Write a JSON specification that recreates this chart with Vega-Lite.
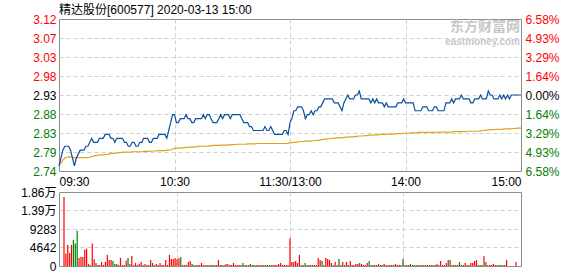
{
"$schema": "https://vega.github.io/schema/vega-lite/v6.json",
"padding": {"left": 0, "right": 0, "top": 3, "bottom": 0},
"background": "white",
"spacing": -3,
"config": {
  "view": {"stroke": "#8c8c8c"},
  "font": "Liberation Sans, Noto Sans CJK SC",
  "axis": {"labelFont": "Liberation Sans, Noto Sans CJK SC", "labelFontSize": 12, "ticks": false, "domain": false, "gridDash": [4, 3], "gridColor": "#cfcfcf", "labelOverlap": false, "labelBound": false}
},
"data": {"values": [
{"m":0,"p":2.75,"a":2.75,"v":17300,"c":"r"},
{"m":1,"p":2.77,"a":2.758,"v":3120,"c":"r"},
{"m":2,"p":2.79,"a":2.765,"v":5320,"c":"r"},
{"m":3,"p":2.80,"a":2.77,"v":3290,"c":"r"},
{"m":4,"p":2.80,"a":2.772,"v":5320,"c":"r"},
{"m":5,"p":2.80,"a":2.773,"v":6580,"c":"g"},
{"m":6,"p":2.79,"a":2.773,"v":5650,"c":"g"},
{"m":7,"p":2.77,"a":2.772,"v":8860,"c":"g"},
{"m":8,"p":2.75,"a":2.771,"v":2030,"c":"r"},
{"m":9,"p":2.77,"a":2.771,"v":2280,"c":"r"},
{"m":10,"p":2.78,"a":2.771,"v":2280,"c":"r"},
{"m":11,"p":2.79,"a":2.771,"v":4050,"c":"r"},
{"m":12,"p":2.79,"a":2.771,"v":4300,"c":"r"},
{"m":13,"p":2.79,"a":2.771,"v":510,"c":"r"},
{"m":14,"p":2.80,"a":2.771,"v":250,"c":"r"},
{"m":15,"p":2.80,"a":2.771,"v":5650,"c":"r"},
{"m":16,"p":2.81,"a":2.772,"v":1690,"c":"r"},
{"m":17,"p":2.82,"a":2.774,"v":760,"c":"g"},
{"m":18,"p":2.81,"a":2.775,"v":250,"c":"r"},
{"m":19,"p":2.81,"a":2.776,"v":250,"c":"r"},
{"m":20,"p":2.81,"a":2.777,"v":1010,"c":"r"},
{"m":21,"p":2.82,"a":2.778,"v":250,"c":"r"},
{"m":22,"p":2.82,"a":2.778,"v":1010,"c":"r"},
{"m":23,"p":2.82,"a":2.778,"v":2790,"c":"r"},
{"m":24,"p":2.83,"a":2.779,"v":1520,"c":"r"},
{"m":25,"p":2.83,"a":2.779,"v":1520,"c":"r"},
{"m":26,"p":2.83,"a":2.78,"v":1270,"c":"g"},
{"m":27,"p":2.82,"a":2.782,"v":510,"c":"g"},
{"m":28,"p":2.82,"a":2.782,"v":510,"c":"g"},
{"m":29,"p":2.81,"a":2.782,"v":250,"c":"r"},
{"m":30,"p":2.82,"a":2.783,"v":2030,"c":"r"},
{"m":31,"p":2.82,"a":2.783,"v":250,"c":"r"},
{"m":32,"p":2.82,"a":2.784,"v":250,"c":"r"},
{"m":33,"p":2.82,"a":2.785,"v":1350,"c":"r"},
{"m":34,"p":2.81,"a":2.785,"v":2030,"c":"g"},
{"m":35,"p":2.81,"a":2.785,"v":510,"c":"g"},
{"m":36,"p":2.80,"a":2.785,"v":2530,"c":"r"},
{"m":37,"p":2.80,"a":2.785,"v":250,"c":"r"},
{"m":38,"p":2.81,"a":2.786,"v":760,"c":"r"},
{"m":39,"p":2.81,"a":2.786,"v":250,"c":"r"},
{"m":40,"p":2.80,"a":2.786,"v":510,"c":"r"},
{"m":41,"p":2.80,"a":2.786,"v":1010,"c":"r"},
{"m":42,"p":2.81,"a":2.786,"v":250,"c":"r"},
{"m":43,"p":2.81,"a":2.786,"v":510,"c":"r"},
{"m":44,"p":2.82,"a":2.787,"v":250,"c":"r"},
{"m":45,"p":2.82,"a":2.787,"v":250,"c":"r"},
{"m":46,"p":2.82,"a":2.787,"v":1520,"c":"r"},
{"m":47,"p":2.81,"a":2.787,"v":760,"c":"g"},
{"m":48,"p":2.81,"a":2.788,"v":250,"c":"r"},
{"m":49,"p":2.82,"a":2.788,"v":510,"c":"r"},
{"m":50,"p":2.82,"a":2.788,"v":250,"c":"r"},
{"m":51,"p":2.82,"a":2.788,"v":760,"c":"r"},
{"m":52,"p":2.83,"a":2.789,"v":250,"c":"r"},
{"m":53,"p":2.83,"a":2.789,"v":250,"c":"r"},
{"m":54,"p":2.83,"a":2.789,"v":1520,"c":"r"},
{"m":55,"p":2.83,"a":2.789,"v":250,"c":"r"},
{"m":56,"p":2.82,"a":2.79,"v":2790,"c":"r"},
{"m":57,"p":2.84,"a":2.79,"v":1770,"c":"r"},
{"m":58,"p":2.86,"a":2.791,"v":1770,"c":"r"},
{"m":59,"p":2.88,"a":2.793,"v":2030,"c":"r"},
{"m":60,"p":2.88,"a":2.794,"v":1670,"c":"r"},
{"m":61,"p":2.86,"a":2.795,"v":1920,"c":"r"},
{"m":62,"p":2.86,"a":2.795,"v":2260,"c":"g"},
{"m":63,"p":2.87,"a":2.796,"v":250,"c":"r"},
{"m":64,"p":2.87,"a":2.796,"v":250,"c":"r"},
{"m":65,"p":2.87,"a":2.796,"v":250,"c":"r"},
{"m":66,"p":2.88,"a":2.797,"v":1000,"c":"r"},
{"m":67,"p":2.87,"a":2.797,"v":1250,"c":"r"},
{"m":68,"p":2.87,"a":2.798,"v":590,"c":"g"},
{"m":69,"p":2.86,"a":2.798,"v":250,"c":"g"},
{"m":70,"p":2.86,"a":2.798,"v":250,"c":"r"},
{"m":71,"p":2.87,"a":2.799,"v":250,"c":"r"},
{"m":72,"p":2.87,"a":2.799,"v":250,"c":"r"},
{"m":73,"p":2.87,"a":2.8,"v":750,"c":"r"},
{"m":74,"p":2.87,"a":2.8,"v":250,"c":"r"},
{"m":75,"p":2.88,"a":2.8,"v":250,"c":"r"},
{"m":76,"p":2.87,"a":2.8,"v":250,"c":"r"},
{"m":77,"p":2.88,"a":2.8,"v":250,"c":"g"},
{"m":78,"p":2.88,"a":2.801,"v":250,"c":"r"},
{"m":79,"p":2.87,"a":2.801,"v":250,"c":"r"},
{"m":80,"p":2.86,"a":2.802,"v":250,"c":"g"},
{"m":81,"p":2.86,"a":2.802,"v":250,"c":"r"},
{"m":82,"p":2.86,"a":2.802,"v":1500,"c":"r"},
{"m":83,"p":2.87,"a":2.802,"v":250,"c":"g"},
{"m":84,"p":2.88,"a":2.803,"v":250,"c":"g"},
{"m":85,"p":2.87,"a":2.803,"v":250,"c":"r"},
{"m":86,"p":2.88,"a":2.803,"v":500,"c":"r"},
{"m":87,"p":2.88,"a":2.803,"v":500,"c":"r"},
{"m":88,"p":2.88,"a":2.803,"v":250,"c":"g"},
{"m":89,"p":2.87,"a":2.804,"v":250,"c":"r"},
{"m":90,"p":2.88,"a":2.804,"v":750,"c":"r"},
{"m":91,"p":2.88,"a":2.804,"v":250,"c":"r"},
{"m":92,"p":2.88,"a":2.805,"v":250,"c":"r"},
{"m":93,"p":2.88,"a":2.805,"v":250,"c":"r"},
{"m":94,"p":2.88,"a":2.805,"v":250,"c":"g"},
{"m":95,"p":2.87,"a":2.805,"v":750,"c":"g"},
{"m":96,"p":2.86,"a":2.805,"v":250,"c":"r"},
{"m":97,"p":2.86,"a":2.805,"v":250,"c":"r"},
{"m":98,"p":2.86,"a":2.806,"v":250,"c":"g"},
{"m":99,"p":2.85,"a":2.806,"v":500,"c":"r"},
{"m":100,"p":2.85,"a":2.806,"v":250,"c":"g"},
{"m":101,"p":2.84,"a":2.806,"v":250,"c":"g"},
{"m":102,"p":2.84,"a":2.806,"v":250,"c":"r"},
{"m":103,"p":2.84,"a":2.807,"v":250,"c":"r"},
{"m":104,"p":2.84,"a":2.807,"v":250,"c":"r"},
{"m":105,"p":2.84,"a":2.807,"v":250,"c":"r"},
{"m":106,"p":2.84,"a":2.807,"v":250,"c":"r"},
{"m":107,"p":2.85,"a":2.807,"v":250,"c":"g"},
{"m":108,"p":2.84,"a":2.807,"v":250,"c":"r"},
{"m":109,"p":2.84,"a":2.807,"v":250,"c":"g"},
{"m":110,"p":2.85,"a":2.807,"v":250,"c":"g"},
{"m":111,"p":2.84,"a":2.807,"v":250,"c":"r"},
{"m":112,"p":2.83,"a":2.807,"v":250,"c":"r"},
{"m":113,"p":2.83,"a":2.807,"v":250,"c":"r"},
{"m":114,"p":2.83,"a":2.807,"v":500,"c":"r"},
{"m":115,"p":2.83,"a":2.807,"v":750,"c":"r"},
{"m":116,"p":2.83,"a":2.807,"v":250,"c":"r"},
{"m":117,"p":2.84,"a":2.807,"v":250,"c":"r"},
{"m":118,"p":2.84,"a":2.807,"v":250,"c":"r"},
{"m":119,"p":2.83,"a":2.807,"v":250,"c":"r"},
{"m":120,"p":2.86,"a":2.809,"v":6950,"c":"r"},
{"m":121,"p":2.87,"a":2.809,"v":1000,"c":"r"},
{"m":122,"p":2.89,"a":2.81,"v":1000,"c":"r"},
{"m":123,"p":2.89,"a":2.81,"v":1250,"c":"r"},
{"m":124,"p":2.90,"a":2.811,"v":750,"c":"r"},
{"m":125,"p":2.90,"a":2.812,"v":2760,"c":"r"},
{"m":126,"p":2.90,"a":2.812,"v":250,"c":"g"},
{"m":127,"p":2.89,"a":2.812,"v":250,"c":"r"},
{"m":128,"p":2.87,"a":2.813,"v":750,"c":"g"},
{"m":129,"p":2.88,"a":2.813,"v":250,"c":"r"},
{"m":130,"p":2.88,"a":2.813,"v":250,"c":"g"},
{"m":131,"p":2.89,"a":2.813,"v":250,"c":"g"},
{"m":132,"p":2.88,"a":2.814,"v":250,"c":"r"},
{"m":133,"p":2.89,"a":2.814,"v":250,"c":"r"},
{"m":134,"p":2.89,"a":2.815,"v":250,"c":"r"},
{"m":135,"p":2.90,"a":2.815,"v":2000,"c":"r"},
{"m":136,"p":2.90,"a":2.816,"v":1500,"c":"r"},
{"m":137,"p":2.91,"a":2.817,"v":1250,"c":"g"},
{"m":138,"p":2.92,"a":2.818,"v":250,"c":"r"},
{"m":139,"p":2.92,"a":2.818,"v":2000,"c":"r"},
{"m":140,"p":2.92,"a":2.819,"v":1750,"c":"r"},
{"m":141,"p":2.92,"a":2.819,"v":1500,"c":"r"},
{"m":142,"p":2.92,"a":2.82,"v":750,"c":"r"},
{"m":143,"p":2.91,"a":2.82,"v":250,"c":"g"},
{"m":144,"p":2.91,"a":2.821,"v":1000,"c":"r"},
{"m":145,"p":2.91,"a":2.821,"v":250,"c":"r"},
{"m":146,"p":2.90,"a":2.822,"v":1750,"c":"g"},
{"m":147,"p":2.89,"a":2.822,"v":250,"c":"r"},
{"m":148,"p":2.91,"a":2.822,"v":1000,"c":"r"},
{"m":149,"p":2.92,"a":2.823,"v":250,"c":"r"},
{"m":150,"p":2.93,"a":2.823,"v":1000,"c":"r"},
{"m":151,"p":2.92,"a":2.824,"v":250,"c":"g"},
{"m":152,"p":2.92,"a":2.824,"v":1250,"c":"r"},
{"m":153,"p":2.92,"a":2.824,"v":250,"c":"r"},
{"m":154,"p":2.93,"a":2.825,"v":250,"c":"r"},
{"m":155,"p":2.93,"a":2.825,"v":500,"c":"r"},
{"m":156,"p":2.94,"a":2.826,"v":500,"c":"r"},
{"m":157,"p":2.92,"a":2.826,"v":750,"c":"g"},
{"m":158,"p":2.92,"a":2.826,"v":500,"c":"r"},
{"m":159,"p":2.92,"a":2.827,"v":250,"c":"r"},
{"m":160,"p":2.92,"a":2.827,"v":250,"c":"r"},
{"m":161,"p":2.92,"a":2.828,"v":750,"c":"r"},
{"m":162,"p":2.91,"a":2.828,"v":1250,"c":"g"},
{"m":163,"p":2.92,"a":2.828,"v":250,"c":"r"},
{"m":164,"p":2.91,"a":2.829,"v":250,"c":"g"},
{"m":165,"p":2.92,"a":2.829,"v":250,"c":"r"},
{"m":166,"p":2.91,"a":2.829,"v":250,"c":"r"},
{"m":167,"p":2.91,"a":2.83,"v":500,"c":"r"},
{"m":168,"p":2.91,"a":2.83,"v":250,"c":"r"},
{"m":169,"p":2.90,"a":2.83,"v":250,"c":"g"},
{"m":170,"p":2.91,"a":2.83,"v":500,"c":"r"},
{"m":171,"p":2.90,"a":2.831,"v":250,"c":"r"},
{"m":172,"p":2.90,"a":2.831,"v":250,"c":"r"},
{"m":173,"p":2.90,"a":2.831,"v":250,"c":"g"},
{"m":174,"p":2.90,"a":2.831,"v":250,"c":"g"},
{"m":175,"p":2.90,"a":2.832,"v":250,"c":"r"},
{"m":176,"p":2.91,"a":2.832,"v":500,"c":"r"},
{"m":177,"p":2.91,"a":2.832,"v":250,"c":"r"},
{"m":178,"p":2.91,"a":2.832,"v":250,"c":"r"},
{"m":179,"p":2.92,"a":2.833,"v":250,"c":"r"},
{"m":180,"p":2.91,"a":2.833,"v":1750,"c":"g"},
{"m":181,"p":2.91,"a":2.833,"v":250,"c":"r"},
{"m":182,"p":2.91,"a":2.833,"v":250,"c":"r"},
{"m":183,"p":2.91,"a":2.834,"v":250,"c":"r"},
{"m":184,"p":2.91,"a":2.834,"v":500,"c":"g"},
{"m":185,"p":2.89,"a":2.834,"v":250,"c":"g"},
{"m":186,"p":2.89,"a":2.834,"v":250,"c":"g"},
{"m":187,"p":2.89,"a":2.835,"v":250,"c":"r"},
{"m":188,"p":2.89,"a":2.835,"v":250,"c":"r"},
{"m":189,"p":2.90,"a":2.835,"v":250,"c":"g"},
{"m":190,"p":2.90,"a":2.835,"v":250,"c":"r"},
{"m":191,"p":2.90,"a":2.835,"v":250,"c":"r"},
{"m":192,"p":2.89,"a":2.835,"v":250,"c":"g"},
{"m":193,"p":2.89,"a":2.835,"v":250,"c":"r"},
{"m":194,"p":2.89,"a":2.835,"v":250,"c":"r"},
{"m":195,"p":2.90,"a":2.835,"v":250,"c":"g"},
{"m":196,"p":2.90,"a":2.835,"v":250,"c":"g"},
{"m":197,"p":2.89,"a":2.836,"v":250,"c":"r"},
{"m":198,"p":2.89,"a":2.836,"v":500,"c":"r"},
{"m":199,"p":2.89,"a":2.836,"v":250,"c":"r"},
{"m":200,"p":2.89,"a":2.836,"v":1250,"c":"r"},
{"m":201,"p":2.91,"a":2.836,"v":250,"c":"r"},
{"m":202,"p":2.91,"a":2.836,"v":250,"c":"g"},
{"m":203,"p":2.91,"a":2.836,"v":750,"c":"r"},
{"m":204,"p":2.92,"a":2.836,"v":1500,"c":"r"},
{"m":205,"p":2.91,"a":2.837,"v":1500,"c":"g"},
{"m":206,"p":2.92,"a":2.837,"v":250,"c":"r"},
{"m":207,"p":2.92,"a":2.837,"v":250,"c":"r"},
{"m":208,"p":2.92,"a":2.837,"v":250,"c":"r"},
{"m":209,"p":2.93,"a":2.837,"v":250,"c":"r"},
{"m":210,"p":2.92,"a":2.837,"v":1000,"c":"g"},
{"m":211,"p":2.92,"a":2.837,"v":250,"c":"g"},
{"m":212,"p":2.92,"a":2.838,"v":250,"c":"r"},
{"m":213,"p":2.92,"a":2.838,"v":750,"c":"r"},
{"m":214,"p":2.91,"a":2.838,"v":250,"c":"r"},
{"m":215,"p":2.91,"a":2.838,"v":250,"c":"r"},
{"m":216,"p":2.92,"a":2.838,"v":750,"c":"r"},
{"m":217,"p":2.92,"a":2.838,"v":750,"c":"r"},
{"m":218,"p":2.92,"a":2.838,"v":1250,"c":"r"},
{"m":219,"p":2.93,"a":2.839,"v":1500,"c":"r"},
{"m":220,"p":2.92,"a":2.84,"v":250,"c":"g"},
{"m":221,"p":2.92,"a":2.84,"v":250,"c":"g"},
{"m":222,"p":2.92,"a":2.841,"v":250,"c":"r"},
{"m":223,"p":2.94,"a":2.841,"v":2500,"c":"r"},
{"m":224,"p":2.93,"a":2.842,"v":1000,"c":"g"},
{"m":225,"p":2.93,"a":2.842,"v":250,"c":"r"},
{"m":226,"p":2.92,"a":2.842,"v":250,"c":"r"},
{"m":227,"p":2.92,"a":2.843,"v":250,"c":"r"},
{"m":228,"p":2.92,"a":2.843,"v":500,"c":"r"},
{"m":229,"p":2.93,"a":2.843,"v":250,"c":"r"},
{"m":230,"p":2.92,"a":2.843,"v":250,"c":"g"},
{"m":231,"p":2.93,"a":2.844,"v":250,"c":"r"},
{"m":232,"p":2.92,"a":2.844,"v":250,"c":"g"},
{"m":233,"p":2.93,"a":2.844,"v":250,"c":"g"},
{"m":234,"p":2.92,"a":2.844,"v":250,"c":"r"},
{"m":235,"p":2.93,"a":2.845,"v":1500,"c":"r"},
{"m":236,"p":2.93,"a":2.845,"v":0,"c":"r"},
{"m":237,"p":2.93,"a":2.845,"v":0,"c":"r"},
{"m":238,"p":2.93,"a":2.846,"v":0,"c":"r"},
{"m":239,"p":2.93,"a":2.846,"v":0,"c":"r"},
{"m":240,"p":2.93,"a":2.846,"v":1000,"c":"r"}
]},
"vconcat": [
{
  "width": 462, "height": 152,
  "title": {"text": "精达股份[600577] 2020-03-13 15:00", "anchor": "start", "frame": "group", "fontSize": 12, "fontWeight": "normal", "color": "#000000", "offset": -4, "font": "Liberation Sans, Noto Sans CJK SC"},
  "layer": [
    {"data": {"values": [{"t": "东方财富网", "x": 240, "y": 3.103}]},
     "mark": {"type": "text", "font": "Noto Sans CJK SC", "fontSize": 14, "fontWeight": "bold", "color": "#c8c8c8", "align": "right", "baseline": "middle", "dx": -1},
     "encoding": {"text": {"field": "t"}, "x": {"field": "x", "type": "quantitative"}, "y": {"field": "y", "type": "quantitative", "scale": {"domain": [2.7372, 3.1228], "nice": false, "zero": false}, "axis": null}}},
    {"data": {"values": [{"t": "eastmoney.com", "x": 240, "y": 3.064}]},
     "mark": {"type": "text", "font": "Liberation Sans", "fontSize": 10, "fontWeight": "bold", "color": "#c8c8c8", "align": "right", "baseline": "middle", "dx": -1},
     "encoding": {"text": {"field": "t"}, "x": {"field": "x", "type": "quantitative"}, "y": {"field": "y", "type": "quantitative", "scale": {"domain": [2.7372, 3.1228], "nice": false, "zero": false}, "axis": null}}},
    {"mark": {"type": "line", "color": "#e0a21a", "strokeWidth": 1.2},
     "encoding": {
       "x": {"field": "m", "type": "quantitative", "scale": {"domain": [0, 240], "nice": false}},
       "y": {"field": "a", "type": "quantitative", "scale": {"domain": [2.7372, 3.1228], "nice": false, "zero": false},
             "axis": {"orient": "right", "title": null, "grid": false, "values": [2.7372, 2.7854, 2.8336, 2.8818, 2.93, 2.9782, 3.0264, 3.0746, 3.1228],
                      "labelExpr": "format(floor(abs(datum.value-2.93)/2.93*10000+0.001)/100,'.2f')+'%'",
                      "labelPadding": 4,
                      "labelColor": {"condition": [{"test": "datum.value > 2.935", "value": "#ff0000"}, {"test": "datum.value < 2.925", "value": "#008000"}], "value": "#000000"}}}
     }},
    {"mark": {"type": "line", "color": "#0a50a0", "strokeWidth": 1.2},
     "encoding": {
       "x": {"field": "m", "type": "quantitative", "scale": {"domain": [0, 240], "nice": false},
             "axis": {"title": null, "values": [0, 60, 120, 180, 240],
                      "labelExpr": "['09:30','10:30','11:30/13:00','14:00','15:00'][round(datum.value/60)]",
                      "labelColor": "#000000", "labelPadding": 5, "minExtent": 13, "maxExtent": 13, "grid": true,
                      "gridColor": {"condition": {"test": "datum.value == 0 || datum.value == 240", "value": "transparent"}, "value": "#cfcfcf"}}},
       "y": {"field": "p", "type": "quantitative", "scale": {"domain": [2.7372, 3.1228], "nice": false, "zero": false},
             "axis": {"title": null, "values": [2.7372, 2.7854, 2.8336, 2.8818, 2.93, 2.9782, 3.0264, 3.0746, 3.1228], "format": ".2f",
                      "labelPadding": 3, "minExtent": 58, "maxExtent": 58, "grid": true,
                      "gridColor": {"condition": {"test": "datum.value > 3.12 || datum.value < 2.74", "value": "transparent"}, "value": "#cfcfcf"},
                      "labelColor": {"condition": [{"test": "datum.value > 2.935", "value": "#ff0000"}, {"test": "datum.value < 2.925", "value": "#008000"}], "value": "#000000"}}}
     }}
  ],
  "resolve": {"scale": {"y": "independent"}}
},
{
  "width": 462, "height": 74,
  "mark": {"type": "bar", "size": 1.2},
  "encoding": {
    "x": {"field": "m", "type": "quantitative", "scale": {"domain": [0, 240], "nice": false},
          "axis": {"title": null, "values": [60, 120, 180], "labels": false, "grid": true, "minExtent": 0, "maxExtent": 0}},
    "y": {"field": "v", "type": "quantitative", "scale": {"domain": [0, 18566], "nice": false},
          "axis": {"title": null, "values": [0, 4642, 9283, 13925, 18566],
                   "labelExpr": "datum.value >= 10000 ? format(datum.value/10000,'.2f')+'万' : format(datum.value,'d')",
                   "labelColor": "#000000", "labelPadding": 3, "minExtent": 58, "maxExtent": 58, "grid": true,
                   "gridColor": {"condition": {"test": "datum.value == 0 || datum.value > 18000", "value": "transparent"}, "value": "#cfcfcf"}}},
    "color": {"field": "c", "type": "nominal", "scale": {"domain": ["r", "g"], "range": ["#ff0000", "#008000"]}, "legend": null}
  }
}
]
}
